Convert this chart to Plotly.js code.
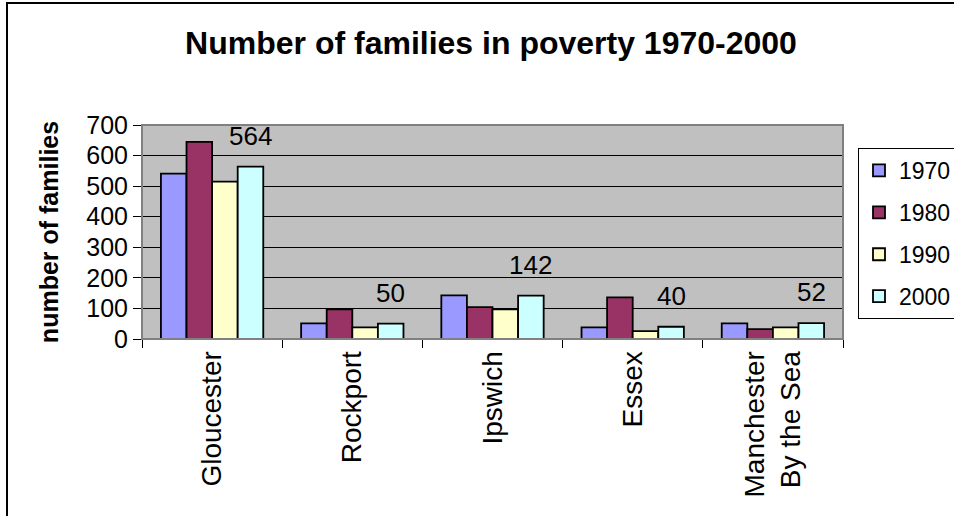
<!DOCTYPE html>
<html>
<head>
<meta charset="utf-8">
<script src="https://cdn.plot.ly/plotly-3.0.1.min.js"></script>
<style>
  html, body { margin: 0; padding: 0; background: #fff; overflow: hidden; }
  #chart { width: 954px; height: 516px; }
  #frame { position: absolute; left: 6px; top: 2px; width: 1000px; height: 600px;
           border-left: 2px solid #000; border-top: 2px solid #000; pointer-events: none; }
</style>
</head>
<body>
<div id="chart"></div>
<div id="frame"></div>
<script>
const towns = ["Gloucester", "Rockport", "Ipswich", "Essex", "Manchester<br>By the Sea"];
const years = ["1970", "1980", "1990", "2000"];
const v1970 = [541, 51, 143, 38, 51];
const v1980 = [645, 97, 104, 136, 32];
const v1990 = [515, 38, 97, 26, 38];
const v2000 = [564, 50, 142, 40, 52];
const yTicks = [0, 100, 200, 300, 400, 500, 600, 700];

const colors = ["#9999FF", "#993366", "#FFFFCC", "#CCFFFF"];
const series = [v1970, v1980, v1990, v2000];
const FONT = "Liberation Sans, Arial, sans-serif";

const W = 954, H = 516;
const margin = { l: 142, r: 111, t: 125, b: 177, pad: 0, autoexpand: false };
const bargap = 0.27;

const traces = series.map((vals, i) => ({
  type: "bar",
  name: years[i],
  x: towns,
  y: vals,
  legendgroup: years[i],
  marker: { color: colors[i], line: { color: "#000", width: 1.8 } },
  hoverinfo: "x+y+name"
}));

// data labels for the 2000 series, placed over its bars
const plotW = W - margin.l - margin.r;
const barW = plotW / towns.length * (1 - bargap) / years.length;
const annotations = v2000.map((v, i) => ({
  x: towns[i], y: v, xref: "x", yref: "y",
  text: String(v), showarrow: false,
  xanchor: "center", yanchor: "bottom",
  xshift: 1.5 * barW, yshift: 14,
  font: { family: FONT, size: 26, color: "#000" }
}));

const layout = {
  width: W, height: H,
  margin: margin,
  paper_bgcolor: "#fff",
  plot_bgcolor: "#C0C0C0",
  barmode: "group",
  bargap: bargap,
  bargroupgap: 0,
  title: {
    text: "<b>Number of families in poverty 1970-2000</b>",
    font: { family: FONT, size: 32, color: "#000" },
    x: 491 / W, xref: "container", xanchor: "center",
    y: 1 - 43 / H, yref: "container", yanchor: "middle"
  },
  xaxis: {
    type: "category",
    tickangle: -90,
    ticks: "outside", ticklen: 8, tickcolor: "#000", tickwidth: 1,
    tickson: "boundaries",
    showline: true, linecolor: "#000", linewidth: 1,
    showgrid: false,
    tickfont: { family: FONT, size: 28, color: "#000" },
    automargin: false
  },
  yaxis: {
    range: [0, 700],
    tickvals: yTicks,
    ticks: "outside", ticklen: 8, tickcolor: "#000", tickwidth: 1,
    showline: true, linecolor: "#000", linewidth: 1,
    showgrid: true, gridcolor: "#000", gridwidth: 1,
    zeroline: false,
    tickfont: { family: FONT, size: 25, color: "#000" },
    title: { text: "<b>number of families</b>", font: { family: FONT, size: 25, color: "#000" }, standoff: 20 },
    automargin: false
  },
  legend: {
    x: (858 - margin.l) / plotW, xanchor: "left",
    y: (H - margin.b - 148) / (H - margin.t - margin.b), yanchor: "top",
    bgcolor: "#fff", bordercolor: "#000", borderwidth: 1,
    font: { family: FONT, size: 23, color: "#000" },
    tracegroupgap: 9,
    traceorder: "grouped"
  },
  shapes: [{
    type: "rect", xref: "paper", yref: "paper", x0: 0, x1: 1, y0: 0, y1: 1,
    line: { color: "#808080", width: 2 }, layer: "above"
  }],
  annotations: annotations,
  showlegend: true
};

Plotly.newPlot("chart", traces, layout, { displayModeBar: false, staticPlot: true });
</script>
</body>
</html>
